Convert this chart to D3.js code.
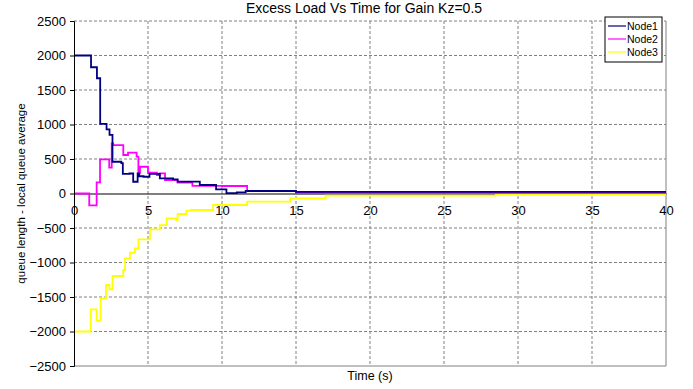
<!DOCTYPE html>
<html>
<head>
<meta charset="utf-8">
<script src="https://cdn.jsdelivr.net/npm/d3@7"></script>
<style>
  body { margin: 0; background: #fff; }
  text { font-family: "Liberation Sans", Arial, sans-serif; }
</style>
</head>
<body>
<div id="chart"></div>
<script>
// series data (step plots, value holds until next time)
const node1Time = [0, 1.15, 1.55, 1.77, 2.2, 2.4, 2.6, 3.2, 3.3, 3.75, 4.0, 4.3, 4.4, 4.7, 5.1, 5.8, 6.7, 7.0, 7.7, 8.5, 9.6, 10.3, 11.0, 11.6, 15.0, 40];
const node1Value = [2000, 1830, 1670, 1010, 930, 850, 460, 440, 285, 290, 170, 290, 250, 243, 283, 220, 206, 171, 171, 123, 61, 5, 17, 36, 25, 25];

const node2Time = [0, 1.03, 1.53, 1.76, 2.38, 2.55, 2.65, 3.33, 3.65, 4.23, 4.35, 4.46, 5.0, 5.6, 5.8, 6.15, 7.0, 8.0, 10.0, 11.7, 15.0, 40];
const node2Value = [0, -171, 162, 496, 374, 727, 700, 558, 591, 533, 292, 388, 301, 268, 292, 196, 157, 110, 109, 36, 8, 8];

const node3Time = [0, 1.13, 1.53, 1.8, 2.16, 2.39, 2.6, 3.33, 3.45, 3.78, 4.12, 4.35, 5.13, 5.8, 6.26, 6.9, 7.0, 7.6, 7.9, 9.4, 11.7, 14.6, 17.0, 28.5, 40];
const node3Value = [-2000, -1678, -1843, -1519, -1326, -1388, -1196, -1109, -940, -858, -795, -664, -519, -457, -360, -384, -297, -249, -239, -167, -119, -70, -30, -15, -15];

const seriesNames = ["Node1", "Node2", "Node3"];
const seriesColors = ["#000080", "#ff00ff", "#ffff00"];
const xTicks = [0, 5, 10, 15, 20, 25, 30, 35, 40];
const yTicks = [-2500, -2000, -1500, -1000, -500, 0, 500, 1000, 1500, 2000, 2500];

const width = 693, height = 389;
const margin = { top: 21, right: 27, bottom: 23, left: 74 };
const plotW = width - margin.left - margin.right;
const plotH = height - margin.top - margin.bottom;

const svg = d3.select("#chart").append("svg")
    .attr("width", width)
    .attr("height", height);

const x = d3.scaleLinear().domain([0, 40]).range([0, plotW]);
const y = d3.scaleLinear().domain([-2500, 2500]).range([plotH, 0]);

const g = svg.append("g").attr("transform", `translate(${margin.left},${margin.top})`);

// grid
g.append("g")
    .selectAll("line")
    .data(xTicks.slice(1, -1))
    .join("line")
    .attr("x1", d => x(d)).attr("x2", d => x(d))
    .attr("y1", 0).attr("y2", plotH)
    .attr("stroke", "#808080")
    .attr("stroke-dasharray", "3,2");
g.append("g")
    .selectAll("line")
    .data(yTicks.filter(d => d != 0 && d != -2500))
    .join("line")
    .attr("x1", 0).attr("x2", plotW)
    .attr("y1", d => y(d)).attr("y2", d => y(d))
    .attr("stroke", "#808080")
    .attr("stroke-dasharray", "3,2");

// plot border (right / bottom)
g.append("line").attr("x1", plotW).attr("x2", plotW).attr("y1", 0).attr("y2", plotH)
    .attr("stroke", "#808080");
g.append("line").attr("x1", 0).attr("x2", plotW).attr("y1", plotH).attr("y2", plotH)
    .attr("stroke", "#808080");

// lines
const series = [
    node1Time.map((t, i) => [t, node1Value[i]]),
    node2Time.map((t, i) => [t, node2Value[i]]),
    node3Time.map((t, i) => [t, node3Value[i]]),
];
const line = d3.line()
    .x(d => x(d[0]))
    .y(d => y(d[1]))
    .curve(d3.curveStepAfter);

// zero axis
const xAxis = d3.axisBottom(x).tickValues(xTicks).tickSize(0).tickPadding(12);
const xg = g.append("g").attr("transform", `translate(0,${y(0)})`).call(xAxis);
xg.select(".domain").attr("stroke", "#000");
xg.selectAll("text").attr("font-size", 13).attr("fill", "#000")
    .attr("font-family", "Liberation Sans, Arial, sans-serif");

[2, 1, 0].forEach(i => {
    g.append("path")
        .datum(series[i])
        .attr("fill", "none")
        .attr("stroke", seriesColors[i])
        .attr("stroke-width", 1.8)
        .attr("d", line);
});

// y axis
const yAxis = d3.axisLeft(y).tickValues(yTicks).tickSize(4).tickPadding(4).tickFormat(d3.format("d"));
const yg = g.append("g").call(yAxis);
yg.select(".domain").attr("stroke", "#000");
yg.selectAll("line").attr("stroke", "#000");
yg.selectAll("text").attr("font-size", 13).attr("fill", "#000")
    .attr("font-family", "Liberation Sans, Arial, sans-serif");

// title
svg.append("text")
    .attr("x", margin.left + plotW / 2 - 6)
    .attr("y", 13)
    .attr("text-anchor", "middle")
    .attr("font-size", 14)
    .text("Excess Load Vs Time for Gain Kz=0.5");

// axis labels
svg.append("text")
    .attr("x", margin.left + plotW / 2)
    .attr("y", 380)
    .attr("text-anchor", "middle")
    .attr("font-size", 12.5)
    .text("Time (s)");
svg.append("text")
    .attr("transform", `translate(25,${margin.top + y(0)}) rotate(-90)`)
    .attr("text-anchor", "middle")
    .attr("font-size", 11.5)
    .text("queue length - local queue average");

// legend
const legend = svg.append("g").attr("transform", "translate(605,17)");
legend.append("rect")
    .attr("width", 57).attr("height", 45)
    .attr("fill", "#fff").attr("stroke", "#000");
seriesNames.forEach((name, i) => {
    const row = legend.append("g").attr("transform", `translate(0,${9 + i * 13})`);
    row.append("line").attr("x1", 3).attr("x2", 21).attr("y1", 0).attr("y2", 0)
        .attr("stroke", seriesColors[i]).attr("stroke-width", 1.2);
    row.append("text").attr("x", 22).attr("y", 4).attr("font-size", 10.5).text(name);
});
</script>
</body>
</html>
